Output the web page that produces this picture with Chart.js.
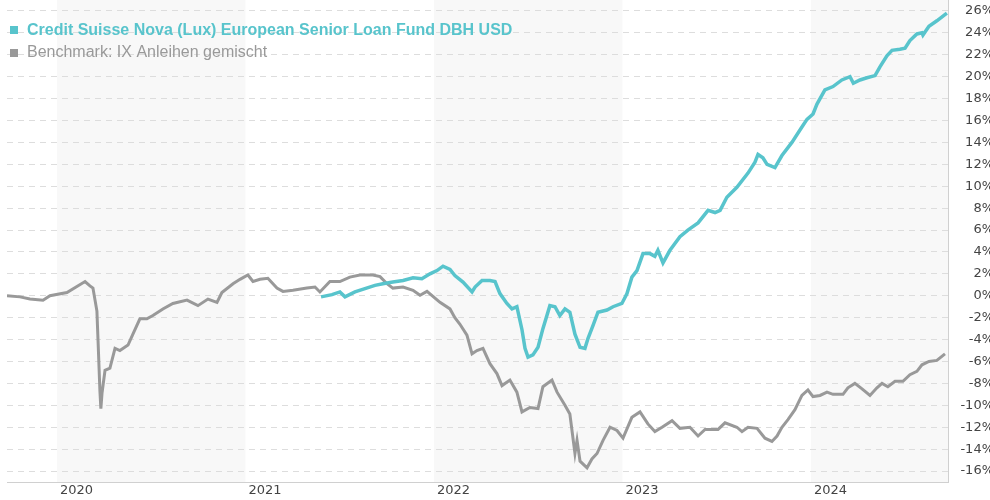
<!DOCTYPE html>
<html>
<head>
<meta charset="utf-8">
<script src="https://cdn.jsdelivr.net/npm/chart.js@4/dist/chart.umd.min.js"></script>
<style>
    body { margin: 0; background: #fff; }
    #wrap { width: 990px; height: 500px; overflow: hidden; position: relative; }
</style>
</head>
<body>
<div id="wrap"><canvas id="perfChart" width="994" height="500"></canvas></div>
<script>
const fundName = 'Credit Suisse Nova (Lux) European Senior Loan Fund DBH USD';
const benchName = 'Benchmark: IX Anleihen gemischt';
const years = [2020, 2021, 2022, 2023, 2024];
const shadedYears = [2020, 2022, 2024];
const yTicks = [-16, -14, -12, -10, -8, -6, -4, -2, 0, 2, 4, 6, 8, 10, 12, 14, 16, 18, 20, 22, 24, 26];

// dates as decimal years
const fundDates = [2021.401, 2021.459, 2021.501, 2021.528, 2021.581, 2021.634, 2021.687, 2021.729, 2021.782, 2021.836,
    2021.889, 2021.936, 2021.979, 2022.016, 2022.048, 2022.085, 2022.111, 2022.154, 2022.202, 2022.218,
    2022.255, 2022.297, 2022.324, 2022.350, 2022.387, 2022.414, 2022.440, 2022.467, 2022.483, 2022.499,
    2022.525, 2022.552, 2022.578, 2022.615, 2022.642, 2022.668, 2022.695, 2022.721, 2022.748, 2022.775,
    2022.801, 2022.817, 2022.844, 2022.870, 2022.918, 2022.950, 2022.997, 2023.024, 2023.050, 2023.077,
    2023.109, 2023.146, 2023.172, 2023.188, 2023.215, 2023.252, 2023.305, 2023.347, 2023.401, 2023.454,
    2023.491, 2023.518, 2023.554, 2023.607, 2023.666, 2023.703, 2023.719, 2023.745, 2023.767, 2023.809,
    2023.846, 2023.899, 2023.952, 2023.979, 2024.011, 2024.032, 2024.074, 2024.117, 2024.164, 2024.207,
    2024.225, 2024.260, 2024.297, 2024.340, 2024.366, 2024.403, 2024.430, 2024.472, 2024.499, 2024.525,
    2024.562, 2024.589, 2024.594, 2024.626, 2024.668, 2024.721];
const fundValues = [-0.1, 0.1, 0.35, -0.1, 0.35, 0.65, 0.95, 1.1, 1.25, 1.4,
    1.65, 1.55, 2.0, 2.3, 2.7, 2.4, 1.85, 1.25, 0.35, 0.8,
    1.4, 1.4, 1.3, 0.2, -0.7, -1.2, -1.0, -3.1, -4.8, -5.6,
    -5.4, -4.7, -3.0, -0.9, -1.0, -1.8, -1.2, -1.5, -3.5, -4.7,
    -4.8, -3.9, -2.7, -1.5, -1.3, -1.0, -0.7, 0.2, 1.7, 2.3,
    3.85, 3.85, 3.6, 4.15, 3.0, 4.15, 5.4, 6.0, 6.65, 7.8,
    7.6, 7.8, 9.0, 9.9, 11.2, 12.2, 12.9, 12.6, 12.0, 11.7,
    12.8, 14.0, 15.4, 16.1, 16.6, 17.5, 18.8, 19.1, 19.7, 20.0,
    19.4, 19.7, 19.9, 20.1, 20.9, 21.9, 22.4, 22.5, 22.6, 23.3,
    23.9, 24.0, 23.8, 24.6, 25.1, 25.8];

const benchDates = [2019.735, 2019.804, 2019.857, 2019.926, 2019.963, 2020.053, 2020.149, 2020.175, 2020.191, 2020.212,
    2020.218, 2020.228, 2020.233, 2020.239, 2020.255, 2020.281, 2020.308, 2020.334, 2020.377, 2020.403,
    2020.440, 2020.477, 2020.509, 2020.562, 2020.615, 2020.690, 2020.748, 2020.801, 2020.849, 2020.875,
    2020.934, 2020.971, 2021.013, 2021.040, 2021.077, 2021.119, 2021.167, 2021.199, 2021.252, 2021.326,
    2021.369, 2021.395, 2021.448, 2021.501, 2021.554, 2021.607, 2021.676, 2021.714, 2021.751, 2021.782,
    2021.836, 2021.889, 2021.926, 2021.963, 2022.032, 2022.085, 2022.111, 2022.138, 2022.175, 2022.202,
    2022.228, 2022.260, 2022.297, 2022.334, 2022.361, 2022.403, 2022.440, 2022.467, 2022.509, 2022.552,
    2022.578, 2022.626, 2022.653, 2022.695, 2022.721, 2022.748, 2022.759, 2022.775, 2022.812, 2022.838,
    2022.865, 2022.897, 2022.934, 2022.971, 2023.003, 2023.050, 2023.093, 2023.135, 2023.172, 2023.210,
    2023.263, 2023.305, 2023.358, 2023.401, 2023.438, 2023.507, 2023.544, 2023.607, 2023.634, 2023.666,
    2023.714, 2023.756, 2023.793, 2023.820, 2023.846, 2023.878, 2023.915, 2023.952, 2023.984, 2024.011,
    2024.048, 2024.085, 2024.117, 2024.170, 2024.196, 2024.233, 2024.271, 2024.313, 2024.350, 2024.377,
    2024.408, 2024.446, 2024.488, 2024.525, 2024.562, 2024.589, 2024.626, 2024.668, 2024.711];
const benchValues = [0.0, -0.1, -0.3, -0.4, 0.0, 0.3, 1.3, 0.9, 0.7, -1.4,
    -4.1, -8.7, -10.3, -8.9, -6.8, -6.6, -4.8, -5.0, -4.5, -3.5,
    -2.1, -2.1, -1.8, -1.2, -0.7, -0.4, -0.9, -0.3, -0.6, 0.3,
    1.1, 1.5, 1.9, 1.3, 1.5, 1.6, 0.7, 0.4, 0.5, 0.7,
    0.8, 0.35, 1.3, 1.3, 1.7, 1.9, 1.9, 1.75, 1.1, 0.7,
    0.8, 0.5, 0.05, 0.4, -0.6, -1.2, -2.0, -2.6, -3.6, -5.3,
    -5.0, -4.8, -6.2, -7.1, -8.2, -7.7, -8.8, -10.6, -10.2, -10.3,
    -8.3, -7.7, -8.8, -10.0, -10.8, -14.4, -13.2, -15.1, -15.7, -14.9,
    -14.4, -13.2, -12.0, -12.3, -13.0, -11.1, -10.6, -11.7, -12.4, -12.0,
    -11.4, -12.1, -12.0, -12.8, -12.2, -12.2, -11.6, -12.0, -12.4, -12.0,
    -12.1, -13.0, -13.3, -12.8, -12.0, -11.3, -10.4, -9.1, -8.6, -9.2,
    -9.1, -8.8, -9.0, -9.0, -8.4, -8.0, -8.5, -9.1, -8.4, -8.0,
    -8.3, -7.8, -7.8, -7.2, -6.9, -6.3, -6.0, -5.9, -5.3];

const fundColor = '#58c4cc';
const benchColor = '#999999';
const axisFont = { family: '"DejaVu Sans", Verdana, sans-serif', size: 13 };

function toPoints(dates, values) {
    return dates.map((d, i) => ({ x: d, y: values[i] }));
}

const yearBands = {
    id: 'yearBands',
    beforeDraw(chart) {
        const { ctx, chartArea, scales } = chart;
        ctx.save();
        ctx.fillStyle = '#f8f8f8';
        shadedYears.forEach(y => {
            const x1 = Math.max(scales.x.getPixelForValue(y), chartArea.left);
            const x2 = Math.min(scales.x.getPixelForValue(y + 1), chartArea.right);
            ctx.fillRect(x1, chartArea.top, x2 - x1, chartArea.bottom - chartArea.top);
        });
        ctx.restore();
    }
};

const topLegend = {
    id: 'topLegend',
    afterDraw(chart) {
        const ctx = chart.ctx;
        ctx.save();
        ctx.textBaseline = 'middle';
        ctx.fillStyle = fundColor;
        ctx.fillRect(10, 26, 8, 8);
        ctx.font = 'bold 16px "Liberation Sans", Arial, sans-serif';
        ctx.fillText(fundName, 27, 31);
        ctx.fillStyle = benchColor;
        ctx.fillRect(10, 49, 8, 8);
        ctx.font = '16px "Liberation Sans", Arial, sans-serif';
        ctx.fillText(benchName, 27, 53);
        ctx.restore();
    }
};

new Chart(document.getElementById('perfChart'), {
    type: 'line',
    data: {
        datasets: [
            {
                label: fundName,
                data: toPoints(fundDates, fundValues),
                borderColor: fundColor,
                borderWidth: 3.5,
                pointRadius: 0,
                tension: 0
            },
            {
                label: benchName,
                data: toPoints(benchDates, benchValues),
                borderColor: benchColor,
                borderWidth: 3,
                pointRadius: 0,
                tension: 0
            }
        ]
    },
    options: {
        responsive: false,
        animation: false,
        layout: { padding: { left: 7, top: 0, right: 0, bottom: 0 } },
        plugins: {
            legend: { display: false },
            tooltip: { enabled: false }
        },
        scales: {
            x: {
                type: 'linear',
                min: 2019.735,
                max: 2024.727,
                afterBuildTicks: function (scale) {
                    scale.ticks = years.map(y => ({ value: y }));
                },
                afterFit: function (scale) {
                    scale.height = 18;
                    scale.paddingLeft = 0;
                    scale.paddingRight = 0;
                },
                ticks: {
                    align: 'start',
                    labelOffset: 3,
                    padding: 1,
                    maxRotation: 0,
                    autoSkip: false,
                    color: '#444',
                    font: axisFont,
                    callback: v => String(v)
                },
                grid: { display: false, drawTicks: false },
                border: { display: true, color: '#d0d0d0', width: 1 }
            },
            y: {
                position: 'right',
                min: -17,
                max: 27,
                afterBuildTicks: function (scale) {
                    scale.ticks = yTicks.map(v => ({ value: v }));
                },
                afterFit: function (scale) {
                    scale.width = 46;
                    scale.paddingTop = 0;
                    scale.paddingBottom = 0;
                },
                ticks: {
                    crossAlign: 'far',
                    padding: 10,
                    color: '#444',
                    font: axisFont,
                    callback: v => v + '%'
                },
                grid: {
                    color: '#dddddd',
                    lineWidth: 1,
                    drawTicks: false
                },
                border: { display: true, color: '#d0d0d0', width: 1, dash: [6, 5] }
            }
        }
    },
    plugins: [yearBands, topLegend]
});
</script>
</body>
</html>
